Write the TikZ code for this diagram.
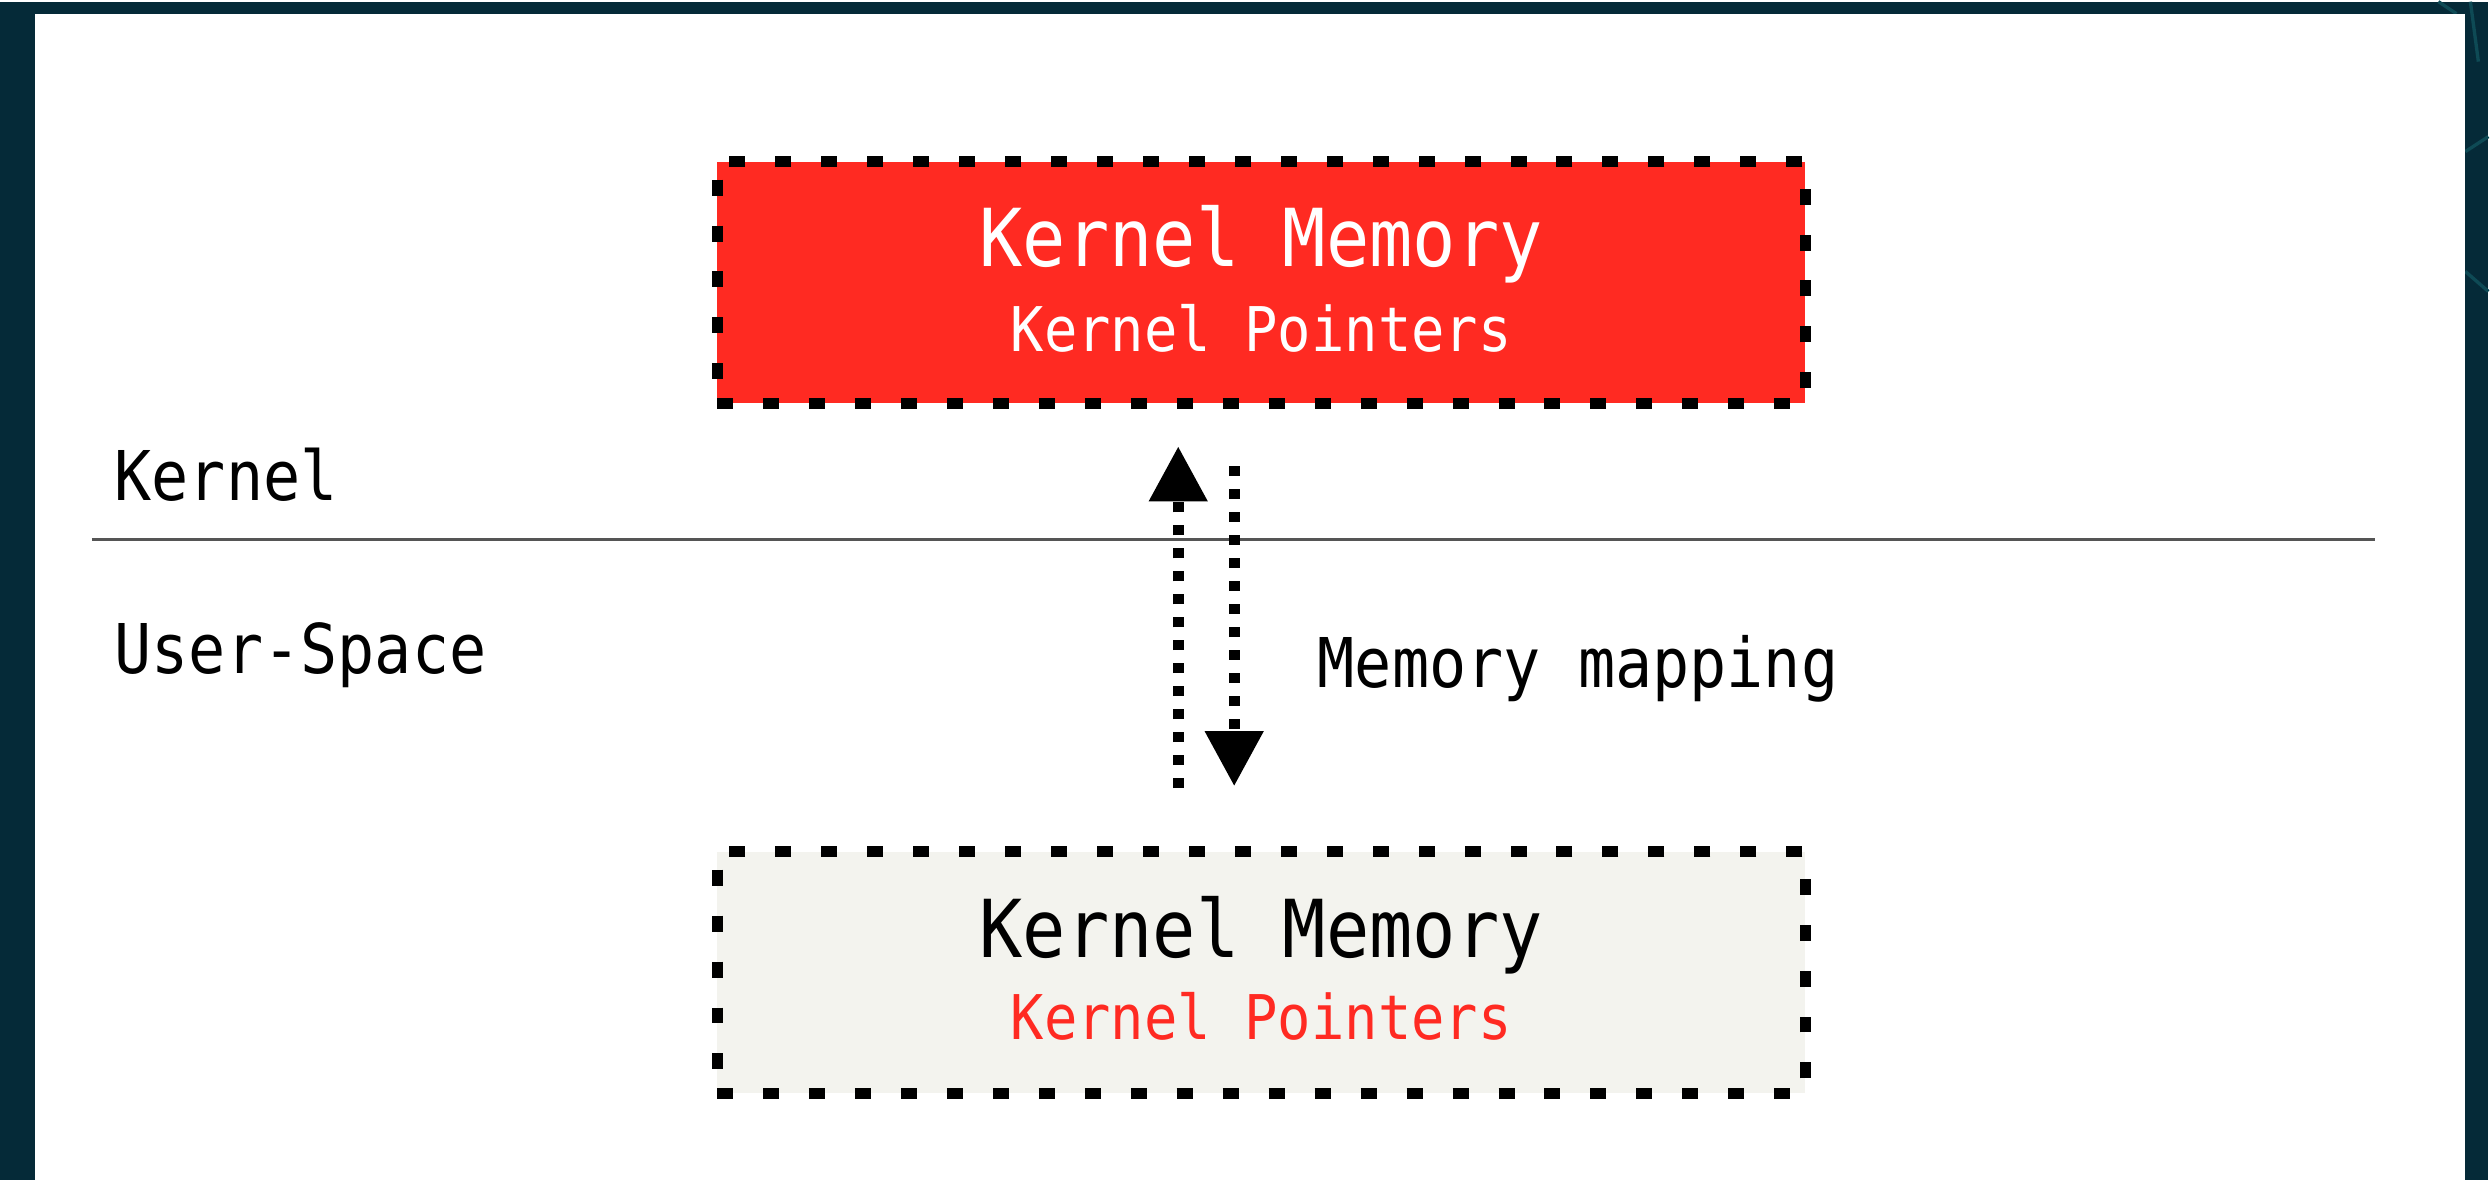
\documentclass[tikz,border=0pt]{standalone}
\usepackage{fontspec}
\setmainfont{DejaVu Sans Mono}[FakeStretch=0.9]
\usetikzlibrary{arrows.meta}
\definecolor{bgdark}{HTML}{052A38}
\definecolor{bgline}{HTML}{0E4A55}
\definecolor{kred}{HTML}{FF2A22}
\definecolor{lowfill}{HTML}{F3F3EE}
\definecolor{sepgray}{HTML}{555555}
\begin{document}
\begin{tikzpicture}[x=0.3pt,y=-0.3pt,
  membox/.style={draw=black, line width=3.3pt, dash pattern=on 4.8pt off 9pt,
    minimum width=326.7pt, minimum height=72.6pt, inner sep=0pt},
  bigtxt/.style={inner sep=0pt, anchor=base, font=\fontsize{24}{28}\selectfont},
  smalltxt/.style={inner sep=0pt, anchor=base, font=\fontsize{18.5}{22}\selectfont},
  lbl/.style={inner sep=0pt, anchor=base west, font=\fontsize{20.6}{24}\selectfont},
  maparrow/.style={line width=3.3pt, line cap=butt, dash pattern=on 3pt off 3.9pt,
    -{Triangle[width=16.8pt,length=16.5pt]}}]
\fill[bgdark] (0,0) rectangle (2490,1179);
\draw[bgline, line width=1pt] (2440,0) -- (2458,12);
\draw[bgline, line width=1pt] (2467,150) -- (2490,135);
\draw[bgline, line width=1pt] (2467,270) -- (2490,290);
\draw[bgline, line width=1pt] (2472,0) -- (2480,60);
\fill[white] (35,12) rectangle (2467,1179);
\useasboundingbox (0,0) rectangle (2490,1179);

% boxes
\node[membox, fill=kred] (top) at (1262,281) {};
\node[membox, fill=lowfill] (low) at (1262,971.5) {};

\node[bigtxt, text=white] (t1) at (1262,265) {Kernel Memory};
\node[smalltxt, text=white] (t2) at (1262,350) {Kernel Pointers};
\node[bigtxt, text=black] (b1) at (1262,956) {Kernel Memory};
\node[smalltxt, text=kred] (b2) at (1262,1039) {Kernel Pointers};

% separator
\coordinate (sepL) at (92,538);
\coordinate (sepR) at (2377,538);
\draw[sepgray, line width=0.8pt] (sepL) -- (sepR);

\node[lbl] (kern) at (114,499) {Kernel};
\node[lbl] (user) at (114,672) {User-Space};
\node[lbl] (map) at (1318,686) {Memory mapping};

% arrows
\coordinate (upS) at (1179,787);
\coordinate (upE) at (1179,445);
\coordinate (dnS) at (1235,465);
\coordinate (dnE) at (1235,785);
\draw[maparrow] (upS) -- (upE);
\draw[maparrow] (dnS) -- (dnE);
\end{tikzpicture}
\end{document}
